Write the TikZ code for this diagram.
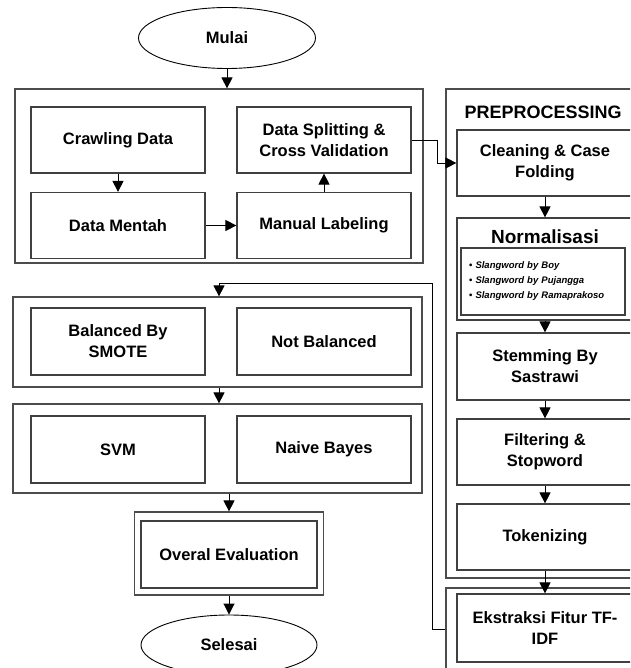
\documentclass[tikz,border=0pt]{standalone}
\usepackage{fontspec}
\setmainfont{Liberation Sans}
\usetikzlibrary{shapes.geometric,arrows.meta}
\tikzstyle{process}=[rectangle,draw=black!75,line width=1.2pt,minimum width=174pt,minimum height=66pt,align=center,font=\bfseries\fontsize{16.5}{21}\selectfont]
\tikzstyle{group}=[rectangle,draw=black!70,line width=1.2pt,inner sep=0pt]
\tikzstyle{terminal}=[ellipse,draw=black,line width=0.9pt,minimum width=177pt,minimum height=61pt,font=\bfseries\fontsize{16.5}{21}\selectfont]
\tikzstyle{flow}=[->,line width=0.9pt]

\begin{document}
\begin{tikzpicture}[x=1pt,y=-1pt,>={Triangle[width=11pt,length=11pt]}]
\useasboundingbox (0,0) rectangle (630,668);
\clip (0,0) rectangle (630,668);

% left column
\node[terminal] at (227, 38) (mulai) {Mulai};
\node[group, minimum width=408pt, minimum height=174pt] at (219, 176) (collect) {};
\node[process] at (118, 140) (crawl) {Crawling Data};
\node[process] at (118, 225.5) (mentah) {Data Mentah};
\node[process] at (324, 140) (split) {Data Splitting \&\\Cross Validation};
\node[process] at (324, 225.5) (label) {Manual Labeling};

\node[group, minimum width=409pt, minimum height=90pt] at (217.5, 342) (balance) {};
\node[process, minimum height=67pt] at (118, 341.5) (smote) {Balanced By\\SMOTE};
\node[process, minimum height=67pt] at (324, 341.5) (nobal) {Not Balanced};
\node[group, minimum width=409pt, minimum height=89pt] at (217.5, 448.5) (classify) {};
\node[process, minimum height=67pt] at (118, 449.5) (svm) {SVM};
\node[process, minimum height=67pt] at (324, 449.5) (nb) {Naive Bayes};

\node[group, minimum width=189pt, minimum height=83pt] at (229, 553.5) (evalouter) {};
\node[process, minimum width=176pt, minimum height=67pt] at (229, 554.5) (eval) {Overal Evaluation};
\node[terminal, minimum width=176pt, minimum height=60pt] at (229, 645) (selesai) {Selesai};

% preprocessing
\node[group, minimum width=198pt, minimum height=489pt] at (545, 333.5) (prep) {};
\node[anchor=west, font=\bfseries\fontsize{18}{22}\selectfont] at (461, 112) (preptitle) {PREPROCESSING};
\node[process, minimum width=176pt] at (545, 163) (clean) {Cleaning \& Case\\Folding};
\node[process, minimum width=176pt, minimum height=102pt] at (545, 269) (norm) {};
\node[font=\bfseries\fontsize{19}{23}\selectfont] at (545, 237) (normtitle) {Normalisasi};
\node[rectangle, draw=black!75, line width=1.2pt, minimum width=164pt, minimum height=67pt, text width=148pt, inner xsep=8pt, align=left, font=\bfseries\itshape\fontsize{9.5}{15}\selectfont] at (543, 281.5) (slang) {{\upshape\textbullet}~Slangword by Boy\\{\upshape\textbullet}~Slangword by Pujangga\\{\upshape\textbullet}~Slangword by Ramaprakoso};
\node[process, minimum width=176pt, minimum height=67pt] at (545, 366.5) (stem) {Stemming By\\Sastrawi};
\node[process, minimum width=176pt, minimum height=66pt] at (545, 452) (filter) {Filtering \&\\Stopword};
\node[process, minimum width=176pt, minimum height=66pt] at (545, 537) (token) {Tokenizing};
\node[group, minimum width=198pt, minimum height=82pt] at (545, 629) (tfidfouter) {};
\node[process, minimum width=176pt, minimum height=68pt] at (545, 628) (tfidf) {Ekstraksi Fitur TF-\\IDF};

\coordinate (loop) at (219, 283);

\draw[flow] (mulai) -- (mulai |- collect.north);
\draw[flow] (crawl) -- (mentah);
\draw[flow] (mentah) -- (label);
\draw[flow] (label) -- (split);
\draw[flow] (split.east) -- ++(26,0) |- (clean.west);
\draw[flow] (clean) -- (norm);
\draw[flow] (norm) -- (stem);
\draw[flow] (stem) -- (filter);
\draw[flow] (filter) -- (token);
\draw[flow] (token) -- (tfidf);
\draw[flow] (tfidfouter.west) -- ++(-13,0) |- (loop) -- (loop |- balance.north);
\draw[flow] (loop |- balance.south) -- (loop |- classify.north);
\draw[flow] (eval |- classify.south) -- (evalouter.north);
\draw[flow] (evalouter) -- (selesai);
\end{tikzpicture}
\end{document}
